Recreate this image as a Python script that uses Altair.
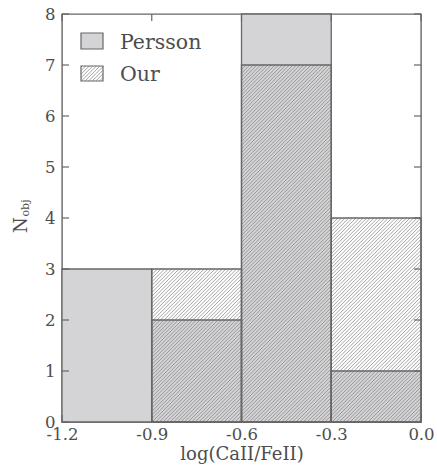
import altair as alt
import pandas as pd
import numpy as np

# ---- data ----
bin_left = [-1.2, -0.9, -0.6, -0.3]
bin_right = [-0.9, -0.6, -0.3, 0.0]
persson = [3, 2, 8, 1]
our = [0, 3, 7, 4]
x_ticks = [-1.2, -0.9, -0.6, -0.3, 0.0]
y_ticks = [0, 1, 2, 3, 4, 5, 6, 7, 8]
legend_labels = ["Persson", "Our"]

# ---- layout ----
W, H = 359, 408
XMIN, XMAX = -1.2, 0.0
YMIN, YMAX = 0, 8
SX = W / (XMAX - XMIN)
SY = H / (YMAX - YMIN)
SP = 3.6  # hatch spacing in px
FONT = "DejaVu Serif"
TXT = "#4d4d4d"
EDGE = "#666666"
GREY = "#d4d4d7"
HATCH = "#7c7c7c"


def hatch(u0, u1, v0, v1, sp):
    segs = []
    c = np.floor((u0 - v1) / sp) * sp
    while c <= u1 - v0:
        ua = max(u0, v0 + c)
        ub = min(u1, v1 + c)
        if ub > ua:
            segs.append((ua, ua - c, ub, ub - c))
        c += sp
    return segs


df = pd.DataFrame({"left": bin_left, "right": bin_right,
                   "persson": persson, "our": our})

rows = []
for l, r, h in zip(bin_left, bin_right, our):
    if h <= 0:
        continue
    for ua, va, ub, vb in hatch((l - XMIN) * SX, (r - XMIN) * SX, 0, h * SY, SP):
        rows.append({"x": ua / SX + XMIN, "y": va / SY,
                     "x2": ub / SX + XMIN, "y2": vb / SY})
df_h = pd.DataFrame(rows)

xscale = alt.Scale(domain=[XMIN, XMAX], nice=False, zero=False)
yscale = alt.Scale(domain=[YMIN, YMAX], nice=False)
xaxis = alt.Axis(values=x_ticks, title="log(CaII/FeII)",
                 labelExpr="replace(format(datum.value, '.1f'), '\u2212', '-')",
                 labelFlush=False, labelOverlap=False, tickSize=0,
                 labelPadding=4, titlePadding=3)
yaxis = alt.Axis(values=y_ticks, title=None, format="d", labelFlush=False,
                 labelOverlap=False, tickSize=0, labelPadding=7)

base = alt.Chart(df)

persson_fill = base.mark_rect(color=GREY, strokeWidth=0).encode(
    x=alt.X("left:Q", scale=xscale, axis=xaxis),
    x2="right:Q",
    y=alt.Y("persson:Q", scale=yscale, axis=yaxis),
    y2=alt.datum(0),
)

hatch_lines = alt.Chart(df_h).mark_rule(color=HATCH, strokeWidth=0.7).encode(
    x=alt.X("x:Q", scale=xscale, axis=xaxis), x2="x2:Q",
    y=alt.Y("y:Q", scale=yscale, axis=yaxis), y2="y2:Q",
)

persson_edge = base.mark_rect(fillOpacity=0, stroke=EDGE, strokeWidth=1.3).encode(
    x=alt.X("left:Q", scale=xscale, axis=xaxis), x2="right:Q",
    y=alt.Y("persson:Q", scale=yscale, axis=yaxis), y2=alt.datum(0),
)

our_edge = base.transform_filter("datum.our > 0").mark_rect(
    fillOpacity=0, stroke=EDGE, strokeWidth=1.3).encode(
    x=alt.X("left:Q", scale=xscale, axis=xaxis), x2="right:Q",
    y=alt.Y("our:Q", scale=yscale, axis=yaxis), y2=alt.datum(0),
)

# inward ticks on all four sides
df_xt = pd.DataFrame({"t": x_ticks})
df_yt = pd.DataFrame({"t": y_ticks})
tick_style = dict(color=EDGE, strokeWidth=1.2)
xt_bottom = alt.Chart(df_xt).mark_rule(**tick_style).encode(
    x=alt.X("t:Q", scale=xscale, axis=xaxis), y=alt.value(H), y2=alt.value(H - 7))
xt_top = alt.Chart(df_xt).mark_rule(**tick_style).encode(
    x=alt.X("t:Q", scale=xscale, axis=xaxis), y=alt.value(0), y2=alt.value(7))
yt_left = alt.Chart(df_yt).mark_rule(**tick_style).encode(
    y=alt.Y("t:Q", scale=yscale, axis=yaxis), x=alt.value(0), x2=alt.value(7))
yt_right = alt.Chart(df_yt).mark_rule(**tick_style).encode(
    y=alt.Y("t:Q", scale=yscale, axis=yaxis), x=alt.value(W), x2=alt.value(W - 7))

# y-axis title N_obj
one = pd.DataFrame({"a": [0]})
ytitle_n = alt.Chart(one).mark_text(text="N", font=FONT, fontSize=18, color=TXT,
                                    angle=270, align="center", baseline="middle").encode(
    x=alt.value(-40), y=alt.value(211))
ytitle_sub = alt.Chart(one).mark_text(text="obj", font=FONT, fontSize=11, color=TXT,
                                      angle=270, align="center", baseline="middle").encode(
    x=alt.value(-36), y=alt.value(194))

# legend
lx0, lx1 = 19, 41
p_y0, p_y1 = 19, 35
o_y0, o_y1 = 52, 67
leg_p = alt.Chart(one).mark_rect(color=GREY, stroke=EDGE, strokeWidth=1.2).encode(
    x=alt.value(lx0), x2=alt.value(lx1), y=alt.value(p_y0), y2=alt.value(p_y1))
leg_o = alt.Chart(one).mark_rect(fillOpacity=0, stroke=EDGE, strokeWidth=1.2).encode(
    x=alt.value(lx0), x2=alt.value(lx1), y=alt.value(o_y0), y2=alt.value(o_y1))
lrows = []
for ua, va, ub, vb in hatch(lx0, lx1, -o_y1, -o_y0, SP):
    lrows.append({"px": ua, "py": -va, "px2": ub, "py2": -vb})
df_lh = pd.DataFrame(lrows)
leg_h = alt.Chart(df_lh).mark_rule(color=HATCH, strokeWidth=0.7).encode(
    x=alt.X("px:Q", scale=None), x2="px2:Q",
    y=alt.Y("py:Q", scale=None), y2="py2:Q")
text_style = dict(font=FONT, fontSize=20.5, color=TXT, align="left", baseline="alphabetic")
leg_t1 = alt.Chart(one).mark_text(text=legend_labels[0], **text_style).encode(
    x=alt.value(58), y=alt.value(35))
leg_t2 = alt.Chart(one).mark_text(text=legend_labels[1], **text_style).encode(
    x=alt.value(58), y=alt.value(67))

chart = alt.layer(
    persson_fill, hatch_lines, persson_edge, our_edge,
    xt_bottom, xt_top, yt_left, yt_right,
    ytitle_n, ytitle_sub, leg_p, leg_h, leg_o, leg_t1, leg_t2,
).properties(
    width=W, height=H,
    autosize=alt.AutoSizeParams(type="none"),
    padding={"left": 62, "top": 14, "right": 16, "bottom": 48},
    background="white",
).configure_view(
    stroke=EDGE, strokeWidth=1.4
).configure_axis(
    grid=False, domain=False, ticks=False,
    labelFont=FONT, labelFontSize=16.5, labelColor=TXT,
    titleFont=FONT, titleFontSize=18, titleColor=TXT, titleFontWeight="normal",
)

chart.save("out.html", embed_options={"renderer": "svg", "actions": False})
